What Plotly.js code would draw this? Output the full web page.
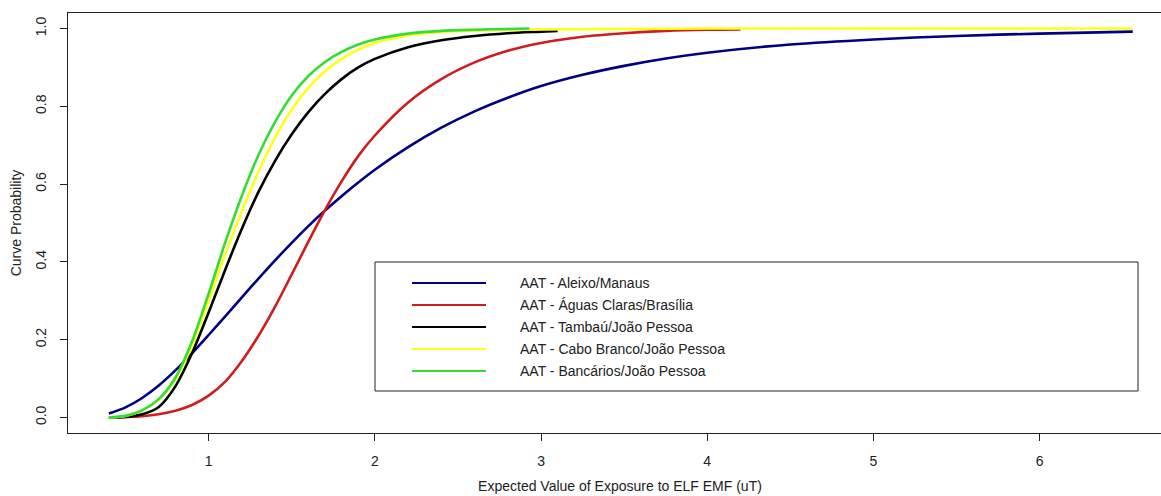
<!DOCTYPE html>
<html>
<head>
<meta charset="utf-8">
<script src="https://cdn.plot.ly/plotly-3.0.1.min.js"></script>
<style>
html,body{margin:0;padding:0;overflow:hidden;background:#fff;}
#chart{width:1175px;height:496px;}
</style>
</head>
<body>
<div id="chart"></div>
<script>
// ---- data ----
var seriesNames = [
  "AAT - Aleixo/Manaus",
  "AAT - Águas Claras/Brasília",
  "AAT - Tambaú/João Pessoa",
  "AAT - Cabo Branco/João Pessoa",
  "AAT - Bancários/João Pessoa"
];
var seriesColors = ["#000080", "#d01c1c", "#000000", "#ffff1a", "#33dd33"];

var aleixoX = [0.4,0.5,0.6,0.7,0.8,0.9,1.0,1.1,1.2,1.3,1.4,1.5,1.6,1.7,1.8,1.9,2.0,2.2,2.4,2.6,2.8,3.0,3.25,3.5,3.75,4.0,4.5,5.0,5.5,6.0,6.56];
var aleixoY = [0.010,0.026,0.050,0.082,0.121,0.165,0.212,0.260,0.309,0.357,0.404,0.449,0.492,0.532,0.569,0.604,0.637,0.695,0.745,0.787,0.822,0.852,0.881,0.904,0.923,0.938,0.959,0.972,0.981,0.987,0.992];

var aguasX = [0.4,0.5,0.6,0.7,0.8,0.9,1.0,1.1,1.2,1.3,1.4,1.5,1.6,1.7,1.8,1.9,2.0,2.2,2.4,2.6,2.8,3.0,3.25,3.5,3.75,4.0,4.2];
var aguasY = [0.000,0.001,0.003,0.008,0.017,0.032,0.056,0.092,0.145,0.210,0.285,0.368,0.452,0.533,0.607,0.672,0.725,0.810,0.870,0.913,0.943,0.963,0.979,0.988,0.994,0.997,0.998];

var tambauX = [0.4,0.5,0.6,0.7,0.8,0.9,1.0,1.1,1.2,1.3,1.4,1.5,1.6,1.7,1.8,1.9,2.0,2.2,2.4,2.6,2.8,3.0,3.1];
var tambauY = [0.000,0.001,0.008,0.027,0.080,0.165,0.270,0.380,0.485,0.580,0.660,0.728,0.785,0.832,0.870,0.900,0.922,0.952,0.970,0.981,0.988,0.992,0.994];

var caboX = [0.4,0.5,0.6,0.7,0.8,0.9,1.0,1.1,1.2,1.3,1.4,1.5,1.6,1.7,1.8,1.9,2.0,2.2,2.4,2.6,2.8,3.0,3.5,4.0,5.0,6.56];
var caboY = [0.000,0.004,0.018,0.046,0.098,0.185,0.300,0.420,0.530,0.632,0.720,0.792,0.848,0.890,0.922,0.946,0.963,0.982,0.991,0.995,0.997,0.998,0.999,1.000,1.000,1.000];

var bancariosX = [0.4,0.5,0.6,0.7,0.8,0.9,1.0,1.1,1.2,1.3,1.4,1.5,1.6,1.7,1.8,1.9,2.0,2.2,2.4,2.6,2.8,2.93];
var bancariosY = [0.000,0.004,0.018,0.047,0.102,0.195,0.318,0.450,0.570,0.675,0.760,0.828,0.878,0.914,0.940,0.959,0.972,0.987,0.994,0.997,0.999,1.000];

var xTicks = [1,2,3,4,5,6];
var yTicks = [0.0,0.2,0.4,0.6,0.8,1.0];
var yTickText = ["0.0","0.2","0.4","0.6","0.8","1.0"];

var xs = [aleixoX, aguasX, tambauX, caboX, bancariosX];
var ys = [aleixoY, aguasY, tambauY, caboY, bancariosY];

// ---- geometry (pixels) ----
var W = 1175, H = 496;
var mL = 68, mR = 3, mT = 13, mB = 63;
var pw = W - mL - mR, ph = H - mT - mB;
function px(x){ return (x - mL) / pw; }
function py(y){ return (H - mB - y) / ph; }

var FONT = "Liberation Sans, Arial, sans-serif";

var traces = [];
for (var i = 0; i < xs.length; i++) {
  traces.push({
    type: "scatter", mode: "lines",
    x: xs[i], y: ys[i], name: seriesNames[i],
    line: {color: seriesColors[i], width: 2.6, shape: "spline", smoothing: 0.8},
    showlegend: false, hoverinfo: "x+y+name"
  });
}

// manual legend (box, key lines, labels)
var shapes = [{
  type: "rect", xref: "paper", yref: "paper",
  x0: px(375), x1: px(1138), y0: py(391), y1: py(262),
  line: {color: "#222", width: 1}, fillcolor: "rgba(255,255,255,0)"
}];
var annotations = [];
var rowY = [283, 305, 327, 349, 371];
for (var j = 0; j < seriesNames.length; j++) {
  shapes.push({
    type: "line", xref: "paper", yref: "paper",
    x0: px(412), x1: px(486), y0: py(rowY[j]), y1: py(rowY[j]),
    line: {color: seriesColors[j], width: 2}
  });
  annotations.push({
    xref: "paper", yref: "paper", x: px(518), y: py(rowY[j]),
    xanchor: "left", yanchor: "middle", showarrow: false,
    text: seriesNames[j], font: {family: FONT, size: 14, color: "#222"}
  });
}

var layout = {
  width: W, height: H,
  margin: {l: mL, r: mR, t: mT, b: mB, pad: 0},
  paper_bgcolor: "#fff", plot_bgcolor: "#fff",
  font: {family: FONT, size: 14, color: "#222"},
  showlegend: false,
  xaxis: {
    range: [0.154, 6.796], tickvals: xTicks, ticktext: xTicks.map(String),
    ticks: "outside", ticklen: 7, tickwidth: 1, tickcolor: "#222",
    showline: true, linecolor: "#222", linewidth: 1, mirror: true,
    showgrid: false, zeroline: false, ticklabelstandoff: 8,
    tickfont: {family: FONT, size: 14, color: "#222"},
    title: {text: "Expected Value of Exposure to ELF EMF (uT)", standoff: 13, font: {family: FONT, size: 14, color: "#222"}}
  },
  yaxis: {
    range: [-0.04, 1.04], tickvals: yTicks, ticktext: yTickText, tickangle: -90,
    ticks: "outside", ticklen: 7, tickwidth: 1, tickcolor: "#222",
    showline: true, linecolor: "#222", linewidth: 1, mirror: true,
    showgrid: false, zeroline: false, ticklabelstandoff: 8,
    tickfont: {family: FONT, size: 14, color: "#222"},
    title: {text: "Curve Probability", standoff: 8, font: {family: FONT, size: 14, color: "#222"}}
  },
  shapes: shapes,
  annotations: annotations
};

Plotly.newPlot("chart", traces, layout, {displayModeBar: false, staticPlot: true});
</script>
</body>
</html>
